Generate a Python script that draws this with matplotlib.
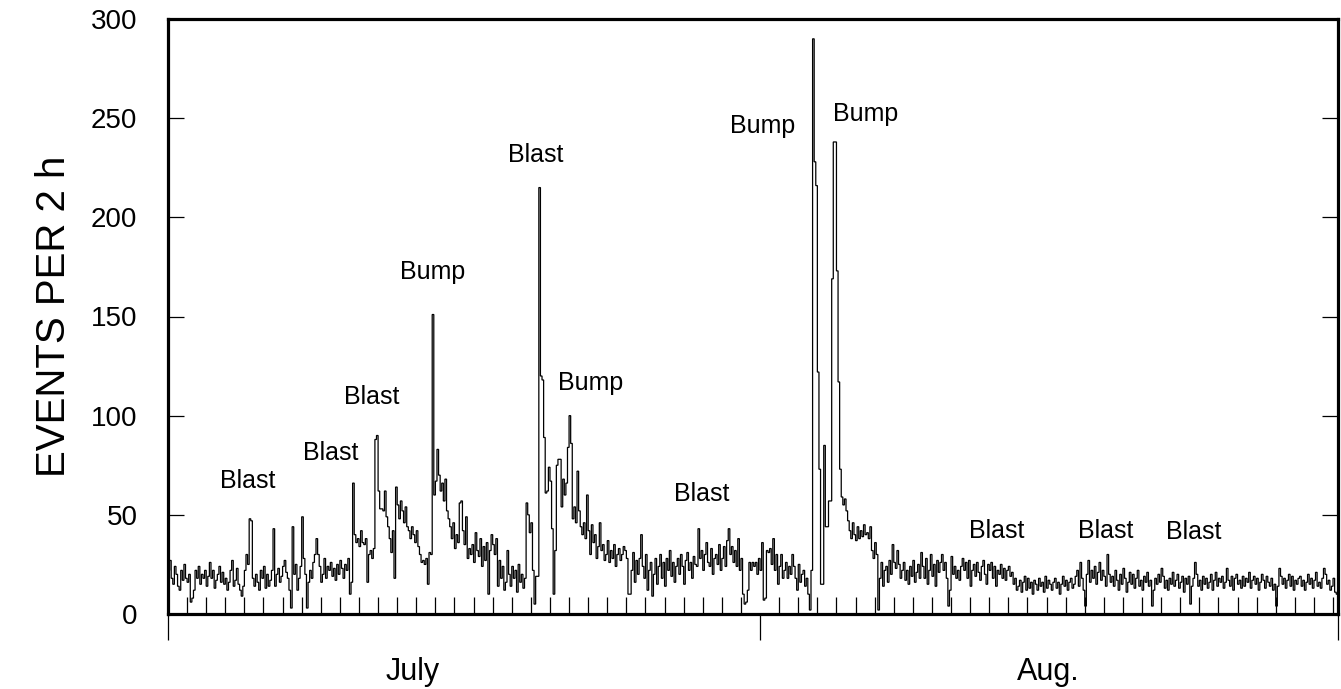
import numpy as np
import matplotlib
matplotlib.use("Agg")
import matplotlib.pyplot as plt
from matplotlib.ticker import FixedLocator
import matplotlib.transforms as mtransforms

plt.rcParams['font.family'] = ['Liberation Sans', 'DejaVu Sans']

# Events per 2 h bin, in rows of consecutive bins, starting July 1
bin_rows = [
    [22,27,18,15,24,20,14,12,22,17,25,18],
    [16,20,6,8,12,22,18,24,15,20,18,22],
    [14,19,26,18,22,13,17,20,24,16,21,15],
    [18,12,16,22,27,14,17,23,15,12,9],
    [14,22,30,25,48,47,18,14,20,16,12,22],
    [18,24,13,20,14,17,22,43,14,20,23,16],
    [19,24,27,21,18,12,3,44,20,25,12,18],
    [24,49,28,20,3,16,22,18,26,30,38,30],
    [24,16,20,28,18,24,22,26,19,23,17,25],
    [20,27,23,18,25,22,28,10,16,66,40,36],
    [38,34,42,36,35,38,16,30,32,28,33],
    [88,90,62,53,53,52,62,49,44,38,31,42],
    [18,64,55,48,57,52,46,54,44,42,38,44],
    [40,36,42,34,30,26,27,25,28,15,31,30],
    [151,60,67,83,70,62,66,57,68,52,48,44],
    [38,46,33,40,36,56,57,42,35,49,28,33],
    [30,35,26,41,32,29,38,24,34,27,36,10],
    [32,40,35,30,38,14,27,18,24,12,16],
    [32,20,14,24,18,22,11,25,16,20,13,18],
    [56,50,41,46,22,5,19,19,215,120,118,89],
    [61,62,74,67,43,10,32,75,78,78,54,68],
    [60,66,84,100,86,48,54,46,72,52,44,40],
    [46,38,60,42,30,45,36,40,28,34,46,32],
    [35,27,30,37,26,32,28,35,24,30,33,27],
    [30,34,32,28,10,10,22,31,16,27,20],
    [28,40,24,18,30,12,22,26,9,20,28,15],
    [24,30,18,26,14,28,22,32,19,26,16,24],
    [28,20,30,24,15,27,31,22,26,18,29,25],
    [24,43,28,32,22,30,36,26,24,33,20,28],
    [30,25,35,22,28,34,24,37,43,30,34,26],
    [32,24,38,22,28,10,5,6,12,26,22,26],
    [24,26,20,28,22,36,7,8,32,31,33],
    [25,38,22,30,15,24,30,18,22,26,18,24],
    [20,30,24,18,12,25,16,20,22,14,18,10],
    [2,22,290,228,216,122,73,15,15,85,44,44],
    [57,57,169,238,238,173,117,73,59,55,58,52],
    [47,42,38,46,40,37,44,38,42,39,45,40],
    [41,38,44,32,28,36,30,2,18,26,14,22],
    [24,16,27,20,35,26,23,32,25,18,22],
    [26,17,22,15,24,19,27,16,21,25,18,31],
    [24,18,28,15,22,30,19,25,14,27,21,26],
    [30,22,26,18,4,12,29,20,24,18,22,17],
    [24,28,22,26,18,27,14,22,25,19,26,21],
    [17,24,27,20,15,25,22,26,18,24,14,22],
    [20,25,18,23,17,22,24,19,21,15,18,12],
    [14,17,11,16,19,12,18,13,16,10,17],
    [15,12,18,14,16,11,19,13,17,15,12,16],
    [18,13,16,10,15,19,14,17,12,16,18,13],
    [15,19,22,14,26,18,12,4,20,27,16,22],
    [18,24,15,21,26,17,22,19,14,30,20,16],
    [19,14,22,17,12,20,15,23,18,11,16,21],
    [15,20,13,18,22,14,17,12,19,16,21,14],
    [17,4,12,18,15,20,16,23,19,13,17],
    [12,18,15,21,14,17,20,13,16,19,11,18],
    [15,19,5,14,18,26,20,14,17,12,19,15],
    [18,13,16,20,12,17,21,14,18,16,19,13],
    [16,23,17,14,19,12,18,20,15,17,13,19],
    [14,18,16,21,13,17,19,15,18,12,16,20],
    [17,13,19,16,14,18,12,15,4,14,23,19],
    [15,18,13,17,20,14,19,12,17,15,18],
    [19,14,17,12,16,20,15,18,13,17,21,14],
    [16,13,18,23,20,15,17,12,14,18,11,10],
]

y_ticks = [0, 50, 100, 150, 200, 250, 300]
month_labels = ["July", "Aug."]
month_label_days = [12.83, 46.08]
month_start_days = [0, 31]
x_end_day = 61.26

annot_text = ["Blast", "Blast", "Blast", "Bump", "Blast", "Bump", "Blast",
              "Bump", "Bump", "Blast", "Blast", "Blast"]
annot_day = [4.19, 8.54, 10.68, 13.88, 19.27, 22.15, 27.96, 31.16, 36.55, 43.41, 49.12, 53.73]
annot_val = [67.1, 81.2, 109.4, 172.4, 231.4, 116.5, 60.5, 246.1, 252.1, 41.8, 41.8, 41.3]

values = np.array([v for row in bin_rows for v in row], dtype=float)
edges = np.arange(len(values) + 1) / 12.0

fig = plt.figure(figsize=(13.41, 6.89), dpi=100)
ax = fig.add_axes([168/1341, 1 - 614/689, (1338-168)/1341, (614-19)/689])

ax.stairs(values, edges, color='black', linewidth=0.9, baseline=None)

ax.set_xlim(0, x_end_day)
ax.set_ylim(0, 300)

for s in ax.spines.values():
    s.set_linewidth(2.3)

ax.set_yticks(y_ticks)
ax.set_yticklabels([str(v) for v in y_ticks])
ax.tick_params(axis='y', which='major', direction='in', length=11.5, width=0.9,
               left=True, right=True, labelsize=20, pad=22)

ax.xaxis.set_major_locator(FixedLocator(month_start_days + [x_end_day]))
ax.xaxis.set_minor_locator(FixedLocator([d for d in range(1, 62) if d != 31]))
ax.set_xticklabels([])
ax.tick_params(axis='x', which='major', direction='out', length=19, width=0.9)
ax.tick_params(axis='x', which='minor', direction='in', length=12, width=0.9)

ax.set_ylabel("EVENTS PER 2 h", fontsize=29, labelpad=13)

trans = mtransforms.blended_transform_factory(ax.transData, ax.transAxes)
for d, lab in zip(month_label_days, month_labels):
    ax.text(d, -0.0975, lab, transform=trans, ha='center', va='center', fontsize=22)

for t, d, v in zip(annot_text, annot_day, annot_val):
    ax.text(d, v, t, ha='center', va='center', fontsize=18)

fig.savefig("out.png", dpi=100)
